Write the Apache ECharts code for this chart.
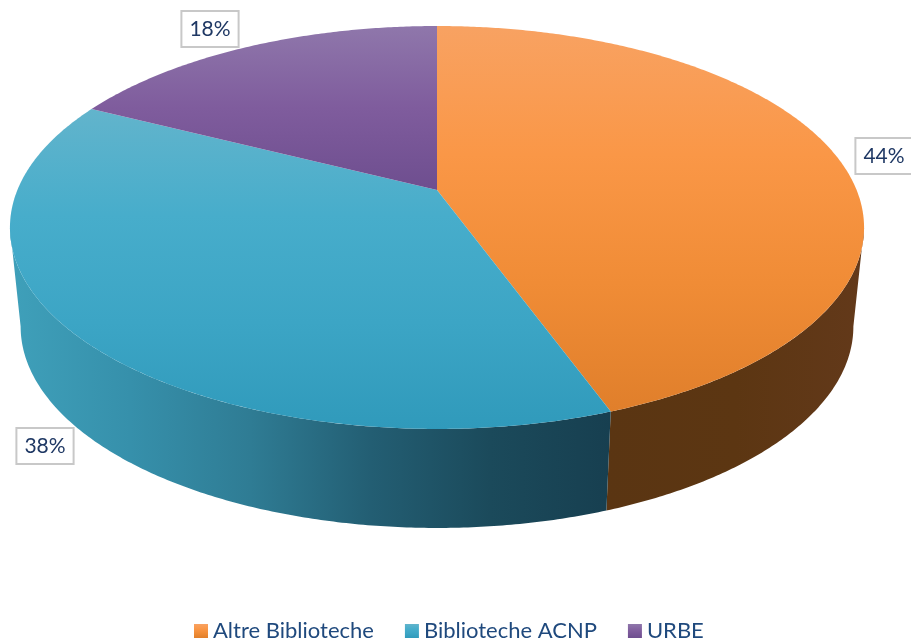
<!DOCTYPE html>
<html>
<head>
<meta charset="utf-8">
<script src="https://cdn.jsdelivr.net/npm/echarts@6/dist/echarts.min.js"></script>
<style>
  html, body { margin: 0; padding: 0; background: #fff; }
  #chart { width: 911px; height: 644px; }
</style>
</head>
<body>
<div id="chart"></div>
<script>
const categories = ['Altre Biblioteche', 'Biblioteche ACNP', 'URBE'];
const shares = [44.45, 38.0, 17.55];
const percentLabels = ['44%', '38%', '18%'];

const topColors = [
    ['#F8A262', '#FA9747', '#F08C36', '#E07F2B'],
    ['#62B4CC', '#47ADCB', '#3CA5C5', '#309ABB'],
    ['#8F77AB', '#7F5C9D', '#6E4E8F']
];
// side wall colours, left to right across the slice
const wallColors = [
    ['#5A3512', '#5C3612', '#63391A'],
    ['#3FA0BA', '#3690AB', '#2F7C94', '#235E73', '#1B4A5B', '#173F50'],
    ['#4A3460', '#4A3460']
];
const labelCenters = [[884, 156], [45, 446], [210, 29]];

// perspective of the disc: apex of the slices sits above the ellipse centre
const apex = { x: 437, y: 190 };
const persp = { a: 419.6, b: 194.5, k: 0.186 };
const wall = { depth: 99, shrink: 0.975 };
const STEP = Math.PI / 360;

function project(theta, isBase) {
    const u = Math.sin(theta);
    const v = -Math.cos(theta);
    const d = 1 - persp.k * v;
    const sx = isBase ? wall.shrink : 1;
    return [
        apex.x + sx * persp.a * u / d,
        apex.y + persp.b * v / d + (isBase ? wall.depth : 0)
    ];
}

function gradientStops(stops) {
    return stops.map((c, i) => ({ offset: i / (stops.length - 1), color: c }));
}

function sliceGradient(stops) {
    return { type: 'linear', x: 0, y: 0, x2: 0, y2: 1, colorStops: gradientStops(stops) };
}

function sweep(from, to, isBase) {
    const n = Math.ceil(Math.abs(to - from) / STEP);
    const pts = [];
    for (let i = 0; i <= n; i++) {
        pts.push(project(from + (to - from) * i / n, isBase));
    }
    return pts;
}

// rim is only visible where the disc faces the viewer
const visFrom = Math.acos(-persp.k);
const visTo = 2 * Math.PI - visFrom;

function renderSlice(index) {
    return function (params, api) {
        const startShare = api.value(0);
        const share = api.value(1);
        const total = shares.reduce((a, b) => a + b, 0);
        const from = startShare / total * 2 * Math.PI;
        const to = (startShare + share) / total * 2 * Math.PI;
        const children = [];

        // side wall
        const a0 = Math.max(from, visFrom);
        const a1 = Math.min(to, visTo);
        if (a1 > a0) {
            children.push({
                type: 'polygon',
                shape: { points: sweep(a0, a1).concat(sweep(a1, a0, true)) },
                style: {
                    fill: {
                        type: 'linear', x: 0, y: 0, x2: 1, y2: 0,
                        colorStops: gradientStops(wallColors[index])
                    }
                }
            });
        }

        // top face
        children.push({
            type: 'polygon',
            shape: { points: [[apex.x, apex.y]].concat(sweep(from, to)) },
            style: { fill: sliceGradient(topColors[index]) }
        });
        return { type: 'group', children: children };
    };
}

function renderLabel(params, api) {
    const i = api.value(0);
    return {
        type: 'text',
        x: labelCenters[i][0],
        y: labelCenters[i][1],
        style: {
            text: percentLabels[i],
            align: 'center',
            verticalAlign: 'middle',
            font: '21px Lato',
            fill: '#1F3864',
            backgroundColor: '#fff',
            borderColor: '#C8C8C8',
            borderWidth: 2,
            padding: [7, 7, 6, 7]
        }
    };
}

let cum = 0;
const sliceSeries = categories.map((name, i) => {
    const s = {
        type: 'custom',
        name: name,
        coordinateSystem: 'none',
        z: 2,
        silent: true,
        renderItem: renderSlice(i),
        data: [[cum, shares[i]]]
    };
    cum += shares[i];
    return s;
});

const chart = echarts.init(document.getElementById('chart'));
chart.setOption({
    backgroundColor: '#fff',
    animation: false,
    legend: {
        left: 194,
        top: 620,
        padding: 0,
        itemWidth: 14,
        itemHeight: 14,
        itemGap: 31,
        icon: 'rect',
        textStyle: { fontFamily: 'Lato', fontSize: 22, color: '#1F497D' },
        data: categories.map((name, i) => ({
            name: name,
            itemStyle: { color: sliceGradient(topColors[i]) }
        }))
    },
    series: sliceSeries.concat([{
        type: 'custom',
        name: 'labels',
        coordinateSystem: 'none',
        z: 5,
        silent: true,
        renderItem: renderLabel,
        data: percentLabels.map((_, i) => [i])
    }])
});
</script>
</body>
</html>
